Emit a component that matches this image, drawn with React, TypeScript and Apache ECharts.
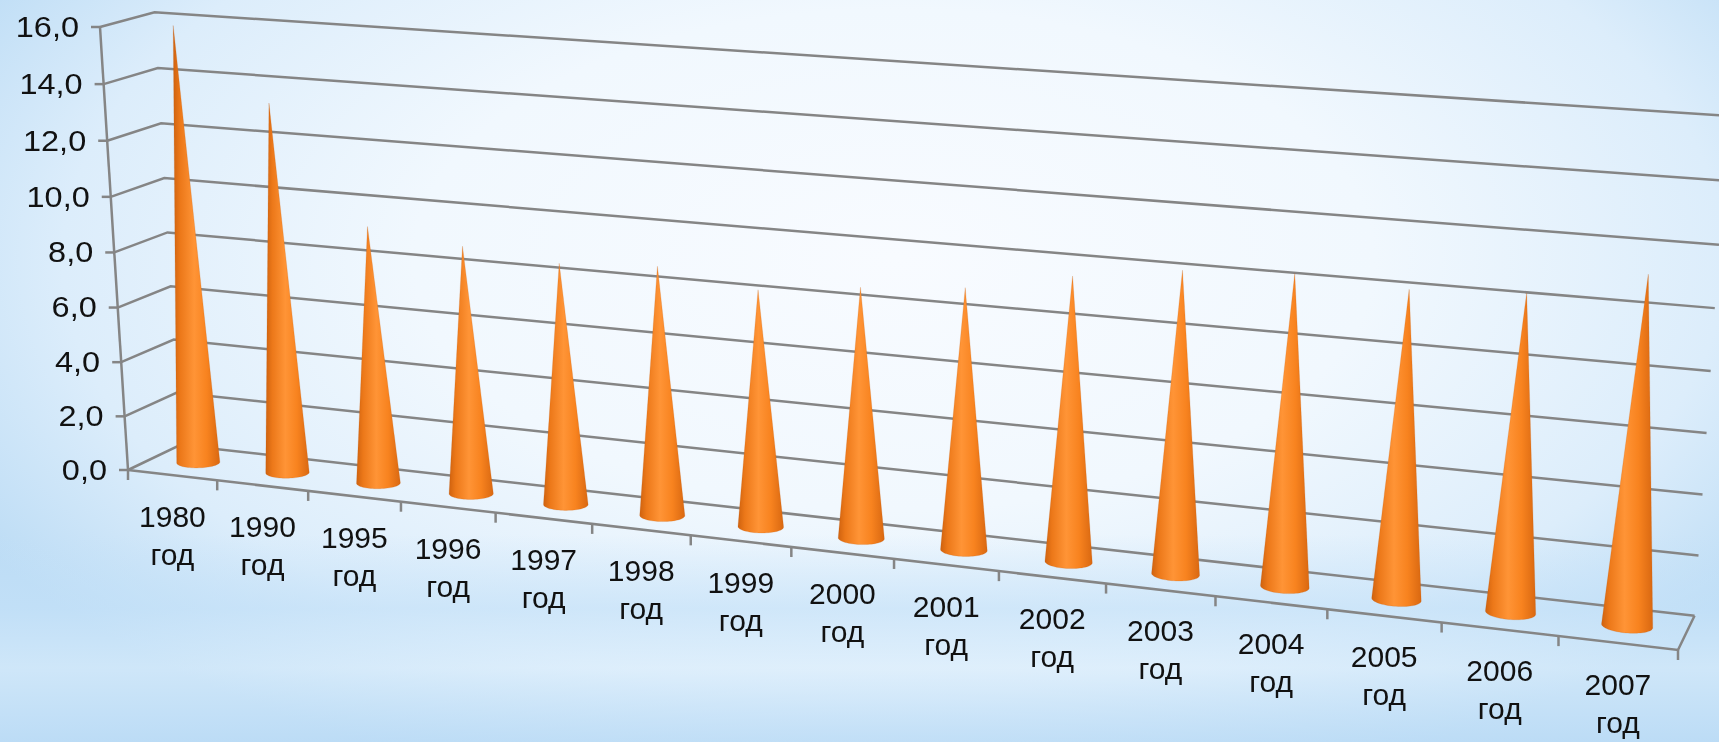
import React, { useEffect, useRef } from 'react';
import * as echarts from 'echarts';

const years = ['1980', '1990', '1995', '1996', '1997', '1998', '1999', '2000', '2001', '2002', '2003', '2004', '2005', '2006', '2007'];
const birthRate = [15.9, 13.4, 9.3, 8.9, 8.6, 8.8, 8.3, 8.7, 9.0, 9.7, 10.2, 10.4, 10.2, 10.4, 11.3];
const valueTicks = [0, 2, 4, 6, 8, 10, 12, 14, 16];

// 3D box corners on screen (front-left-bottom is the origin)
const ORIGIN = [128, 470];
const FRONT_RIGHT = [1678, 650];
const FRONT_TOP = [100, 27];
const BACK_LEFT = [180, 445];
const PERSP = [-0.145, -0.035, 0.025];

const axisVec = (p: number[], w: number) => [(1 + w) * p[0] - ORIGIN[0], (1 + w) * p[1] - ORIGIN[1]];
const AX = axisVec(FRONT_RIGHT, PERSP[0]);
const AY = axisVec(FRONT_TOP, PERSP[1]);
const AZ = axisVec(BACK_LEFT, PERSP[2]);

function project(X: number, Y: number, Z: number) {
  const d = 1 + PERSP[0] * X + PERSP[1] * Y + PERSP[2] * Z;
  return [
    (ORIGIN[0] + AX[0] * X + AY[0] * Y + AZ[0] * Z) / d,
    (ORIGIN[1] + AX[1] * X + AY[1] * Y + AZ[1] * Z) / d,
  ];
}

function hull(pts: number[][]) {
  const p = pts.slice().sort((a, b) => a[0] - b[0] || a[1] - b[1]);
  const cross = (o: number[], a: number[], b: number[]) => (a[0] - o[0]) * (b[1] - o[1]) - (a[1] - o[1]) * (b[0] - o[0]);
  const lower: number[][] = [];
  for (const q of p) {
    while (lower.length >= 2 && cross(lower[lower.length - 2], lower[lower.length - 1], q) <= 0) lower.pop();
    lower.push(q);
  }
  const upper: number[][] = [];
  for (let i = p.length - 1; i >= 0; i--) {
    const q = p[i];
    while (upper.length >= 2 && cross(upper[upper.length - 2], upper[upper.length - 1], q) <= 0) upper.pop();
    upper.push(q);
  }
  upper.pop();
  lower.pop();
  return lower.concat(upper);
}

const GRID = '#858585';
const FONT = 'Liberation Sans, Arial, sans-serif';

export default function App() {
  const ref = useRef<HTMLDivElement>(null);
  useEffect(() => {
    document.body.style.margin = '0';
    if (!ref.current) return;
    const chart = echarts.init(ref.current, null, { renderer: 'svg' });

    const norm = (params: any, c: number[]) => {
      const cs = params.coordSys;
      return [(c[0] - cs.x) / cs.width, 1 - (c[1] - cs.y) / cs.height];
    };
    const line = (a: number[], b: number[]) => ({
      type: 'line',
      shape: { x1: a[0], y1: a[1], x2: b[0], y2: b[1] },
      style: { stroke: GRID, lineWidth: 2.5 },
    });

    chart.setOption({
      animation: false,
      backgroundColor: 'transparent',
      grid: { left: 0, right: 0, top: 0, bottom: 0 },
      xAxis: { type: 'category', data: years, show: false },
      yAxis: { type: 'value', min: 0, max: 16, interval: 2, show: false },
      series: [
        {
          // walls, gridlines and value labels
          type: 'custom',
          silent: true,
          clip: false,
          z: 1,
          data: valueTicks.map((v) => [0, v]),
          renderItem: (params: any, api: any) => {
            const v = api.value(1);
            const [, Y] = norm(params, api.coord([0, v]));
            const f = project(0, Y, 0);
            const b = project(0, Y, 1);
            const r = project(1, Y, 1);
            const children: any[] = [
              { type: 'polyline', shape: { points: [f, b, r] }, style: { stroke: GRID, lineWidth: 2.5, fill: 'none' } },
              line([f[0] - 9, f[1]], f),
              {
                type: 'text',
                x: f[0] - 21,
                y: f[1],
                scaleX: 1.12,
                style: { text: v.toFixed(1).replace('.', ','), fill: '#111', font: `29px ${FONT}`, align: 'right', verticalAlign: 'middle' },
              },
            ];
            if (params.dataIndex === 0) {
              const o = project(0, 0, 0);
              const fr = project(1, 0, 0);
              const br = project(1, 0, 1);
              children.push(
                line(o, project(0, 1, 0)),
                { type: 'polyline', shape: { points: [o, fr, br] }, style: { stroke: GRID, lineWidth: 2.5, fill: 'none' } }
              );
            }
            return { type: 'group', children };
          },
        },
        {
          // category ticks and labels along the front edge
          type: 'custom',
          silent: true,
          clip: false,
          z: 2,
          data: years.map((_, i) => [i, 0]),
          renderItem: (params: any, api: any) => {
            const i = api.value(0);
            const [Xc] = norm(params, api.coord([i, 0]));
            const half = api.size([1, 0])[0] / params.coordSys.width / 2;
            const e = project(Xc, 0, 0);
            const l = project(Xc - half, 0, 0);
            const children: any[] = [
              line(l, [l[0], l[1] + 10]),
              {
                type: 'text',
                x: e[0],
                y: e[1] + 22,
                style: { text: `${years[i]}\nгод`, fill: '#111', font: `30px ${FONT}`, lineHeight: 38, align: 'center', verticalAlign: 'top' },
              },
            ];
            if (i === years.length - 1) {
              const rr = project(Xc + half, 0, 0);
              children.push(line(rr, [rr[0], rr[1] + 10]));
            }
            return { type: 'group', children };
          },
        },
        {
          // cones standing in the middle of the floor depth
          type: 'custom',
          name: 'Рождаемость',
          clip: false,
          z: 3,
          data: birthRate.map((v, i) => [i, v]),
          renderItem: (params: any, api: any) => {
            const i = api.value(0);
            const v = api.value(1);
            const [Xc, Y] = norm(params, api.coord([i, v]));
            const band = api.size([1, 0])[0] / params.coordSys.width;
            const rX = band * 0.215;
            const rZ = 0.2;
            const pts: number[][] = [project(Xc, Y, 0.5)];
            for (let k = 0; k < 72; k++) {
              const a = (k / 72) * Math.PI * 2;
              pts.push(project(Xc + rX * Math.cos(a), 0, 0.5 + rZ * Math.sin(a)));
            }
            return {
              type: 'polygon',
              shape: { points: hull(pts) },
              style: {
                fill: new echarts.graphic.LinearGradient(0, 0, 1, 0, [
                  { offset: 0, color: '#cf620f' },
                  { offset: 0.15, color: '#ec7819' },
                  { offset: 0.45, color: '#ff9436' },
                  { offset: 0.72, color: '#f8831f' },
                  { offset: 1, color: '#d96811' },
                ]),
                stroke: 'rgba(190,90,15,0.3)',
                lineWidth: 0.6,
              },
            };
          },
        },
      ],
    });
    return () => chart.dispose();
  }, []);

  return (
    <div
      style={{
        position: 'fixed',
        left: 0,
        top: 0,
        width: 1719,
        height: 742,
        background:
          'linear-gradient(to bottom, rgba(190,222,247,0) 72%, rgba(196,225,248,0.65) 82%, rgba(222,239,252,0.55) 90%, rgba(188,220,246,0.75) 100%), radial-gradient(ellipse 62% 75% at 52% 35%, #f8fbff 0%, #f1f8fe 45%, #dcedfb 78%, #bcdcf5 100%)',
      }}
    >
      <div ref={ref} style={{ width: 1719, height: 742 }} />
    </div>
  );
}
